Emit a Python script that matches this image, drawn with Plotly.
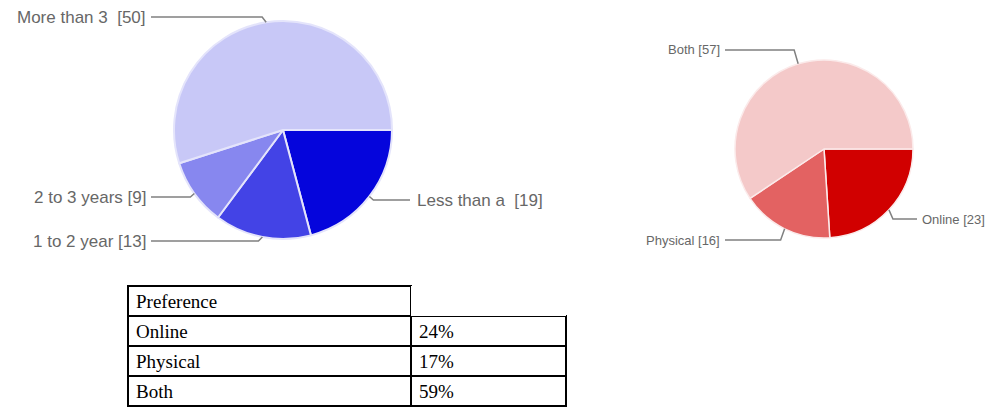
import math
import plotly.graph_objects as go

# page body has an 8px default margin; figure is sized so that it ends at the window edge
OFF = 8
W, H = 993 - OFF, 415 - OFF

# ---- data ----
exp_labels = ["Less than a ", "1 to 2 year", "2 to 3 years", "More than 3 "]
exp_values = [19, 13, 9, 50]
exp_colors = ["#0505dc", "#4343e6", "#8787ef", "#c8c8f7"]

pref_labels = ["Online", "Physical", "Both"]
pref_values = [23, 16, 57]
pref_colors = ["#d10000", "#e36262", "#f4c9c9"]

table_header = ["Preference", ""]
table_rows = ["Online", "Physical", "Both"]
table_pct = ["24%", "17%", "59%"]


def px(x):
    return (x - OFF) / W


def py(y):
    return 1 - (y - OFF) / H


fig = go.Figure()

# pie geometry (window pixels)
L_CX, L_CY, L_R = 283, 130, 109
R_CX, R_CY, R_R = 824, 149, 89

fig.add_trace(go.Pie(
    labels=exp_labels, values=exp_values, sort=False, direction="clockwise",
    rotation=90, textinfo="none", hoverinfo="label+value",
    marker=dict(colors=exp_colors, line=dict(color="#e4e4fb", width=2)),
    domain=dict(x=[px(L_CX - L_R), px(L_CX + L_R)], y=[py(L_CY + L_R), py(L_CY - L_R)]),
    showlegend=False,
))
fig.add_trace(go.Pie(
    labels=pref_labels, values=pref_values, sort=False, direction="clockwise",
    rotation=90, textinfo="none", hoverinfo="label+value",
    marker=dict(colors=pref_colors, line=dict(color="#fbeaea", width=1.5)),
    domain=dict(x=[px(R_CX - R_R), px(R_CX + R_R)], y=[py(R_CY + R_R), py(R_CY - R_R)]),
    showlegend=False,
))


def mid_edge(values, i, cx, cy, r):
    tot = sum(values)
    start = sum(values[:i]) / tot * 360
    mid = start + values[i] / tot * 180
    a = math.radians(mid)  # clockwise from 3 o'clock (screen coords)
    return cx + r * math.cos(a), cy + r * math.sin(a)


LINE = dict(color="#808080", width=1.5)
FONT_L = dict(family="Liberation Sans, Arial", size=17, color="#676767")
FONT_R = dict(family="Liberation Sans, Arial", size=13, color="#676767")

# label layout: (index, side, text anchor x, label y, line end near text)
left_layout = [
    (0, "right", 415, 200, 410),
    (1, "left", 148, 241, 151),
    (2, "left", 148, 197, 151),
    (3, "left", 148, 17, 151),
]
right_layout = [
    (0, "right", 920, 219, 917),
    (1, "left", 722, 240, 725),
    (2, "left", 722, 50, 725),
]


def add_labels(labels, values, layout, cx, cy, r, font):
    for i, side, tx, ly, lx in layout:
        ex, ey = mid_edge(values, i, cx, cy, r)
        elbow = ex + (4 if side == "right" else -4)
        path = f"M {px(lx)},{py(ly)} L {px(elbow)},{py(ly)} L {px(ex)},{py(ey)}"
        fig.add_shape(type="path", path=path, xref="paper", yref="paper", line=LINE)
        fig.add_annotation(
            x=px(tx), y=py(ly), xref="paper", yref="paper",
            text=f"{labels[i]} [{values[i]}]", showarrow=False,
            xanchor="left" if side == "right" else "right", yanchor="middle",
            font=font,
        )


add_labels(exp_labels, exp_values, left_layout, L_CX, L_CY, L_R, FONT_L)
add_labels(pref_labels, pref_values, right_layout, R_CX, R_CY, R_R, FONT_R)

# table
fig.add_trace(go.Table(
    domain=dict(x=[px(128), px(566)], y=[py(409), py(286)]),
    columnwidth=[283, 155],
    header=dict(values=table_header, align="left", height=30,
                fill=dict(color="white"),
                line=dict(color=["black", "rgba(0,0,0,0)"], width=2),
                font=dict(family="Liberation Serif, Times New Roman", size=19, color="black")),
    cells=dict(values=[table_rows, table_pct], align="left", height=30,
               fill=dict(color="white"),
               line=dict(color="black", width=2),
               font=dict(family="Liberation Serif, Times New Roman", size=19, color="black")),
))

fig.update_layout(
    width=W, height=H, margin=dict(l=0, r=0, t=0, b=0),
    paper_bgcolor="white", plot_bgcolor="white",
)

fig.write_html("out.html")
